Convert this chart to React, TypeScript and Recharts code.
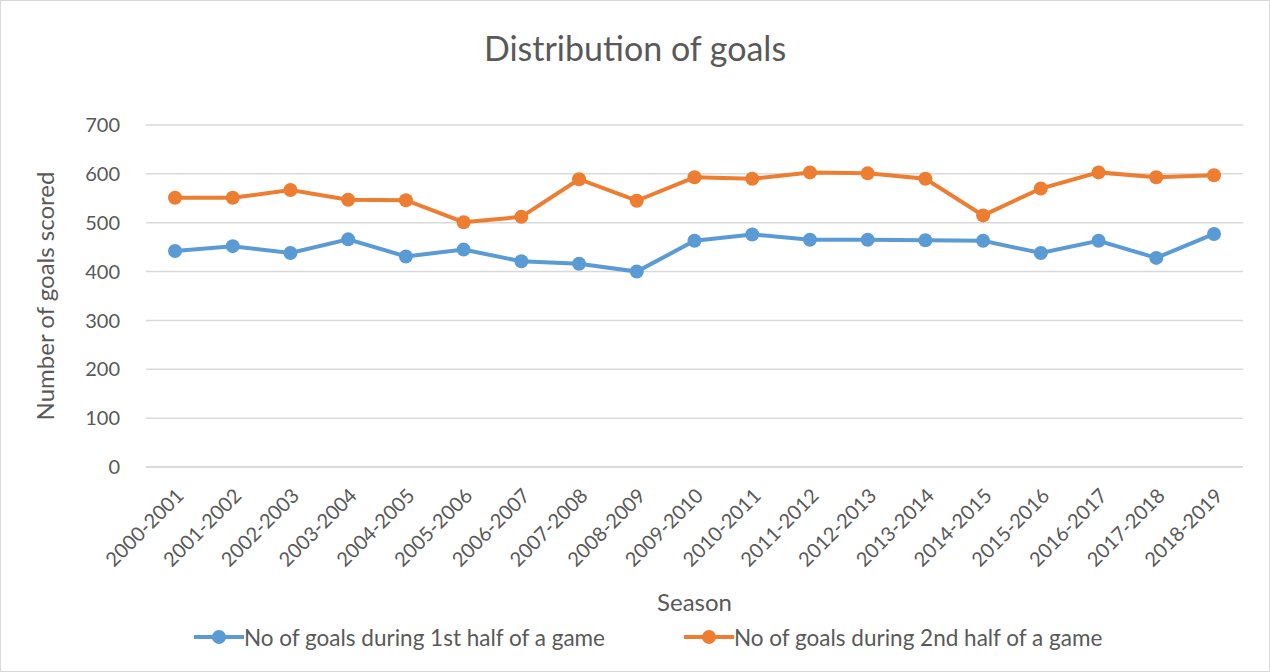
import { LineChart, Line, XAxis, YAxis, CartesianGrid, Label } from "recharts";

const seasons = [
  "2000-2001", "2001-2002", "2002-2003", "2003-2004", "2004-2005",
  "2005-2006", "2006-2007", "2007-2008", "2008-2009", "2009-2010",
  "2010-2011", "2011-2012", "2012-2013", "2013-2014", "2014-2015",
  "2015-2016", "2016-2017", "2017-2018", "2018-2019",
];
const firstHalf = [442, 452, 438, 466, 431, 445, 421, 416, 400, 463, 476, 465, 465, 464, 463, 438, 463, 428, 477];
const secondHalf = [551, 551, 567, 547, 546, 501, 512, 589, 545, 593, 590, 603, 601, 590, 515, 570, 603, 593, 597];
const yTicks = [0, 100, 200, 300, 400, 500, 600, 700];

const data = seasons.map((season, i) => ({
  season,
  first: firstHalf[i],
  second: secondHalf[i],
}));

const FONT = "Lato, 'Open Sans', sans-serif";
const GREY = "#595959";
const BLUE = "#5b9bd5";
const ORANGE = "#ed7d31";

function SeasonTick(props: any) {
  const { x, y, payload } = props;
  const ax = x + 10;
  const ay = y + 22;
  return (
    <text
      x={ax}
      y={ay}
      transform={`rotate(-45, ${ax}, ${ay})`}
      textAnchor="end"
      fill={GREY}
      fontSize={20}
      fontFamily={FONT}
    >
      {payload.value}
    </text>
  );
}

function LegendItem({ color, text, left }: { color: string; text: string; left: number }) {
  return (
    <div style={{ position: "absolute", left, top: 622, display: "flex", alignItems: "center" }}>
      <svg width={51} height={28}>
        <line x1={1} y1={14} x2={51} y2={14} stroke={color} strokeWidth={4} />
        <circle cx={26} cy={14} r={7} fill={color} />
      </svg>
      <span style={{ fontFamily: FONT, fontSize: 22.5, color: GREY, whiteSpace: "nowrap" }}>{text}</span>
    </div>
  );
}

export default function App() {
  return (
    <div
      style={{
        position: "absolute",
        left: 0,
        top: 0,
        width: 1268,
        height: 670,
        border: "1px solid #d9d9d9",
        background: "#fff",
        fontFamily: FONT,
      }}
    >
      <div
        style={{
          position: "absolute",
          top: 26,
          width: "100%",
          textAlign: "center",
          fontSize: 34,
          color: GREY,
        }}
      >
        Distribution of goals
      </div>
      <LineChart
        width={1268}
        height={670}
        data={data}
        margin={{ top: 124, right: 26, bottom: 54, left: 80 }}
      >
        <CartesianGrid vertical={false} stroke="#d9d9d9" strokeWidth={1.5} />
        <XAxis
          dataKey="season"
          interval={0}
          tick={<SeasonTick />}
          tickLine={false}
          axisLine={{ stroke: "#d9d9d9", strokeWidth: 1.5 }}
          padding={{ left: 29, right: 29 }}
          height={150}
        >
          <Label
            value="Season"
            position="insideBottom"
            offset={6}
            fill={GREY}
            fontSize={24}
            fontFamily={FONT}
          />
        </XAxis>
        <YAxis
          domain={[0, 700]}
          ticks={yTicks}
          tickLine={false}
          axisLine={false}
          width={65}
          tick={{ fill: GREY, fontSize: 20, fontFamily: FONT }}
          tickMargin={20}
        >
          <Label
            value="Number of goals scored"
            angle={-90}
            position="insideLeft"
            offset={-36}
            style={{ textAnchor: "middle" }}
            fill={GREY}
            fontSize={24}
            fontFamily={FONT}
          />
        </YAxis>
        <Line
          dataKey="first"
          stroke={BLUE}
          strokeWidth={4}
          dot={{ r: 7, fill: BLUE, stroke: BLUE, strokeWidth: 0 }}
          isAnimationActive={false}
        />
        <Line
          dataKey="second"
          stroke={ORANGE}
          strokeWidth={4}
          dot={{ r: 7, fill: ORANGE, stroke: ORANGE, strokeWidth: 0 }}
          isAnimationActive={false}
        />
      </LineChart>
      <LegendItem color={BLUE} text="No of goals during 1st half of a game" left={192} />
      <LegendItem color={ORANGE} text="No of goals during 2nd half of a game" left={682} />
    </div>
  );
}
